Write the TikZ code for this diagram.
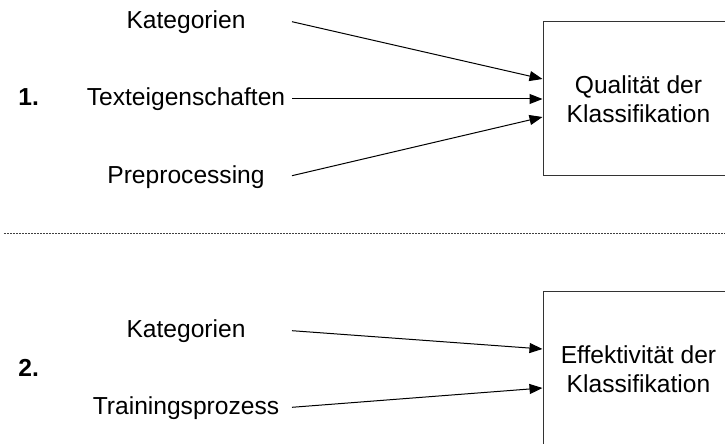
\documentclass[tikz,border=0pt]{standalone}
\usepackage{fontspec}
\setmainfont{Liberation Sans}
\usetikzlibrary{arrows.meta}
\begin{document}
\begin{tikzpicture}[x=0.5pt,y=-0.5pt,
  lbl/.style={inner sep=0pt,anchor=base,font=\fontsize{12.3}{14}\selectfont},
  num/.style={inner sep=0pt,anchor=base west,font=\fontsize{12.3}{14}\selectfont\bfseries},
  resultbox/.style={draw=black!80,line width=0.5pt,minimum width=191pt/2,minimum height=154pt/2,
    inner sep=0pt,align=center,font=\fontsize{12.3}{14.3}\selectfont},
  feed/.style={line width=0.5pt,-{Triangle[length=6.5pt,width=5pt]}},
  sep/.style={draw=black!75,line width=0.5pt,dash pattern=on 1pt off 0.5pt}]
\useasboundingbox (0,0) rectangle (725,444);
\clip (0,0) rectangle (725,444);

% part 1
\node[resultbox] (q) at (638.5,99) {Qualität der\\Klassifikation};
\node[num] (n1) at (18,106) {1.};
\node[lbl] (k1) at (186,29) {Kategorien};
\node[lbl] (t1) at (186,106) {Texteigenschaften};
\node[lbl] (p1) at (186,184) {Preprocessing};
\coordinate (k1s) at (292,21.7);
\coordinate (t1s) at (292,99);
\coordinate (p1s) at (292,175.7);
\draw[feed] (k1s) -- ([yshift=20pt/2]q.west);
\draw[feed] (t1s) -- (q.west);
\draw[feed] (p1s) -- ([yshift=-18pt/2]q.west);

% separator
\coordinate (sl) at (4,234);
\coordinate (sr) at (725,234);
\draw[sep] (sl) -- (sr);

% part 2
\node[resultbox] (e) at (638.5,369) {Effektivität der\\Klassifikation};
\node[num] (n2) at (18,377) {2.};
\node[lbl] (k2) at (186,338) {Kategorien};
\node[lbl] (t2) at (186,415) {Trainingsprozess};
\coordinate (k2s) at (292,330.7);
\coordinate (t2s) at (292,407.3);
\draw[feed] (k2s) -- ([yshift=20pt/2]e.west);
\draw[feed] (t2s) -- ([yshift=-19pt/2]e.west);
\end{tikzpicture}
\end{document}
